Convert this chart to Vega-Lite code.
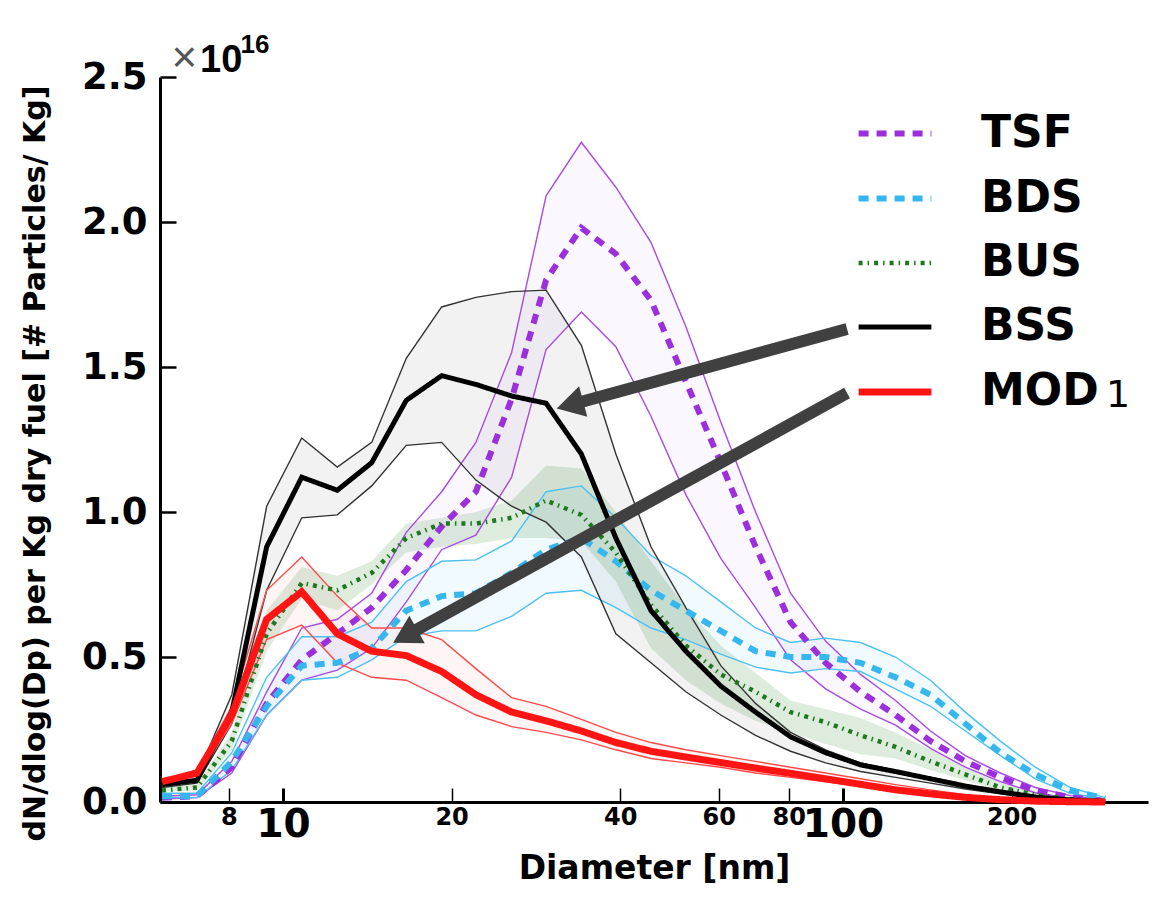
{
 "$schema": "https://vega.github.io/schema/vega-lite/v6.json",
 "width": 988, "height": 725,
 "autosize": {"type": "none"},
 "padding": {"left": 160, "top": 77, "right": 18, "bottom": 97},
 "background": "white",
 "config": {"view": {"stroke": null}, "font": "DejaVu Sans"},
 "datasets": {
  "curves": [
   {"s":"TSF","d":6.08,"m":0.015,"lo":0.01,"hi":0.02},
   {"s":"TSF","d":7.02,"m":0.02,"lo":0.015,"hi":0.025},
   {"s":"TSF","d":8.1,"m":0.12,"lo":0.1,"hi":0.14},
   {"s":"TSF","d":9.35,"m":0.34,"lo":0.3,"hi":0.38},
   {"s":"TSF","d":10.8,"m":0.49,"lo":0.42,"hi":0.6},
   {"s":"TSF","d":12.5,"m":0.58,"lo":0.455,"hi":0.63},
   {"s":"TSF","d":14.4,"m":0.67,"lo":0.53,"hi":0.72},
   {"s":"TSF","d":16.6,"m":0.8,"lo":0.69,"hi":0.93},
   {"s":"TSF","d":19.2,"m":0.95,"lo":0.87,"hi":1.07},
   {"s":"TSF","d":22.1,"m":1.07,"lo":0.92,"hi":1.24},
   {"s":"TSF","d":25.6,"m":1.39,"lo":1.12,"hi":1.55},
   {"s":"TSF","d":29.5,"m":1.8,"lo":1.56,"hi":2.09},
   {"s":"TSF","d":34.1,"m":1.98,"lo":1.69,"hi":2.275},
   {"s":"TSF","d":39.3,"m":1.89,"lo":1.57,"hi":2.12},
   {"s":"TSF","d":45.4,"m":1.73,"lo":1.33,"hi":1.93},
   {"s":"TSF","d":52.4,"m":1.45,"lo":1.06,"hi":1.64},
   {"s":"TSF","d":60.5,"m":1.17,"lo":0.84,"hi":1.31},
   {"s":"TSF","d":69.8,"m":0.88,"lo":0.67,"hi":1.0},
   {"s":"TSF","d":80.6,"m":0.62,"lo":0.49,"hi":0.72},
   {"s":"TSF","d":93.1,"m":0.48,"lo":0.39,"hi":0.555},
   {"s":"TSF","d":107.5,"m":0.38,"lo":0.32,"hi":0.44},
   {"s":"TSF","d":124.1,"m":0.3,"lo":0.265,"hi":0.35},
   {"s":"TSF","d":143.3,"m":0.21,"lo":0.185,"hi":0.245},
   {"s":"TSF","d":165.4,"m":0.14,"lo":0.12,"hi":0.16},
   {"s":"TSF","d":191,"m":0.085,"lo":0.07,"hi":0.1},
   {"s":"TSF","d":220.5,"m":0.04,"lo":0.032,"hi":0.05},
   {"s":"TSF","d":254.6,"m":0.017,"lo":0.012,"hi":0.022},
   {"s":"TSF","d":294,"m":0.004,"lo":0.002,"hi":0.006},

   {"s":"BDS","d":6.08,"m":0.02,"lo":0.015,"hi":0.03},
   {"s":"BDS","d":7.02,"m":0.02,"lo":0.015,"hi":0.03},
   {"s":"BDS","d":8.1,"m":0.14,"lo":0.11,"hi":0.17},
   {"s":"BDS","d":9.35,"m":0.33,"lo":0.3,"hi":0.43},
   {"s":"BDS","d":10.8,"m":0.47,"lo":0.42,"hi":0.57},
   {"s":"BDS","d":12.5,"m":0.48,"lo":0.43,"hi":0.57},
   {"s":"BDS","d":14.4,"m":0.53,"lo":0.49,"hi":0.62},
   {"s":"BDS","d":16.6,"m":0.66,"lo":0.57,"hi":0.76},
   {"s":"BDS","d":19.2,"m":0.71,"lo":0.59,"hi":0.83},
   {"s":"BDS","d":22.1,"m":0.72,"lo":0.59,"hi":0.835},
   {"s":"BDS","d":25.6,"m":0.79,"lo":0.64,"hi":0.9},
   {"s":"BDS","d":29.5,"m":0.87,"lo":0.72,"hi":1.07},
   {"s":"BDS","d":34.1,"m":0.91,"lo":0.73,"hi":1.09},
   {"s":"BDS","d":39.3,"m":0.83,"lo":0.67,"hi":0.98},
   {"s":"BDS","d":45.4,"m":0.73,"lo":0.6,"hi":0.85},
   {"s":"BDS","d":52.4,"m":0.66,"lo":0.56,"hi":0.78},
   {"s":"BDS","d":60.5,"m":0.59,"lo":0.51,"hi":0.69},
   {"s":"BDS","d":69.8,"m":0.52,"lo":0.465,"hi":0.6},
   {"s":"BDS","d":80.6,"m":0.5,"lo":0.445,"hi":0.55},
   {"s":"BDS","d":93.1,"m":0.5,"lo":0.46,"hi":0.565},
   {"s":"BDS","d":107.5,"m":0.48,"lo":0.45,"hi":0.55},
   {"s":"BDS","d":124.1,"m":0.43,"lo":0.39,"hi":0.5},
   {"s":"BDS","d":143.3,"m":0.37,"lo":0.33,"hi":0.42},
   {"s":"BDS","d":165.4,"m":0.27,"lo":0.245,"hi":0.31},
   {"s":"BDS","d":191,"m":0.17,"lo":0.16,"hi":0.21},
   {"s":"BDS","d":220.5,"m":0.095,"lo":0.08,"hi":0.12},
   {"s":"BDS","d":254.6,"m":0.04,"lo":0.03,"hi":0.05},
   {"s":"BDS","d":294,"m":0.012,"lo":0.01,"hi":0.015},

   {"s":"BUS","d":6.08,"m":0.04,"lo":0.035,"hi":0.05},
   {"s":"BUS","d":7.02,"m":0.05,"lo":0.04,"hi":0.06},
   {"s":"BUS","d":8.1,"m":0.21,"lo":0.18,"hi":0.24},
   {"s":"BUS","d":9.35,"m":0.58,"lo":0.52,"hi":0.66},
   {"s":"BUS","d":10.8,"m":0.755,"lo":0.7,"hi":0.81},
   {"s":"BUS","d":12.5,"m":0.73,"lo":0.66,"hi":0.78},
   {"s":"BUS","d":14.4,"m":0.79,"lo":0.75,"hi":0.83},
   {"s":"BUS","d":16.6,"m":0.91,"lo":0.86,"hi":0.96},
   {"s":"BUS","d":19.2,"m":0.96,"lo":0.88,"hi":0.98},
   {"s":"BUS","d":22.1,"m":0.96,"lo":0.89,"hi":1.0},
   {"s":"BUS","d":25.6,"m":0.98,"lo":0.91,"hi":1.04},
   {"s":"BUS","d":29.5,"m":1.04,"lo":0.91,"hi":1.16},
   {"s":"BUS","d":34.1,"m":0.99,"lo":0.9,"hi":1.15},
   {"s":"BUS","d":39.3,"m":0.86,"lo":0.76,"hi":1.0},
   {"s":"BUS","d":45.4,"m":0.68,"lo":0.53,"hi":0.83},
   {"s":"BUS","d":52.4,"m":0.54,"lo":0.42,"hi":0.67},
   {"s":"BUS","d":60.5,"m":0.44,"lo":0.34,"hi":0.54},
   {"s":"BUS","d":69.8,"m":0.38,"lo":0.28,"hi":0.445},
   {"s":"BUS","d":80.6,"m":0.31,"lo":0.24,"hi":0.35},
   {"s":"BUS","d":93.1,"m":0.275,"lo":0.2,"hi":0.32},
   {"s":"BUS","d":107.5,"m":0.23,"lo":0.165,"hi":0.29},
   {"s":"BUS","d":124.1,"m":0.19,"lo":0.15,"hi":0.24},
   {"s":"BUS","d":143.3,"m":0.14,"lo":0.11,"hi":0.18},
   {"s":"BUS","d":165.4,"m":0.095,"lo":0.075,"hi":0.12},
   {"s":"BUS","d":191,"m":0.05,"lo":0.04,"hi":0.07},
   {"s":"BUS","d":220.5,"m":0.025,"lo":0.017,"hi":0.035},
   {"s":"BUS","d":254.6,"m":0.01,"lo":0.006,"hi":0.013},
   {"s":"BUS","d":294,"m":0.003,"lo":0.002,"hi":0.004},

   {"s":"BSS","d":6.08,"m":0.06,"lo":0.05,"hi":0.07},
   {"s":"BSS","d":7.02,"m":0.075,"lo":0.065,"hi":0.09},
   {"s":"BSS","d":8.1,"m":0.31,"lo":0.27,"hi":0.37},
   {"s":"BSS","d":9.35,"m":0.88,"lo":0.73,"hi":1.02},
   {"s":"BSS","d":10.8,"m":1.12,"lo":0.98,"hi":1.255},
   {"s":"BSS","d":12.5,"m":1.075,"lo":0.99,"hi":1.155},
   {"s":"BSS","d":14.4,"m":1.17,"lo":1.09,"hi":1.24},
   {"s":"BSS","d":16.6,"m":1.385,"lo":1.23,"hi":1.53},
   {"s":"BSS","d":19.2,"m":1.47,"lo":1.24,"hi":1.707},
   {"s":"BSS","d":22.1,"m":1.44,"lo":1.11,"hi":1.74},
   {"s":"BSS","d":25.6,"m":1.4,"lo":1.02,"hi":1.76},
   {"s":"BSS","d":29.5,"m":1.375,"lo":0.965,"hi":1.765},
   {"s":"BSS","d":34.1,"m":1.2,"lo":0.845,"hi":1.575},
   {"s":"BSS","d":39.3,"m":0.91,"lo":0.58,"hi":1.2},
   {"s":"BSS","d":45.4,"m":0.66,"lo":0.48,"hi":0.88},
   {"s":"BSS","d":52.4,"m":0.52,"lo":0.38,"hi":0.67},
   {"s":"BSS","d":60.5,"m":0.4,"lo":0.3,"hi":0.47},
   {"s":"BSS","d":69.8,"m":0.31,"lo":0.23,"hi":0.34},
   {"s":"BSS","d":80.6,"m":0.225,"lo":0.175,"hi":0.24},
   {"s":"BSS","d":93.1,"m":0.17,"lo":0.135,"hi":0.18},
   {"s":"BSS","d":107.5,"m":0.128,"lo":0.105,"hi":0.135},
   {"s":"BSS","d":124.1,"m":0.105,"lo":0.085,"hi":0.11},
   {"s":"BSS","d":143.3,"m":0.08,"lo":0.065,"hi":0.085},
   {"s":"BSS","d":165.4,"m":0.055,"lo":0.045,"hi":0.06},
   {"s":"BSS","d":191,"m":0.035,"lo":0.028,"hi":0.038},
   {"s":"BSS","d":220.5,"m":0.017,"lo":0.013,"hi":0.02},
   {"s":"BSS","d":254.6,"m":0.007,"lo":0.005,"hi":0.008},
   {"s":"BSS","d":294,"m":0.002,"lo":0.001,"hi":0.002},

   {"s":"MOD1","d":6.08,"m":0.07,"lo":0.065,"hi":0.075},
   {"s":"MOD1","d":7.02,"m":0.1,"lo":0.09,"hi":0.11},
   {"s":"MOD1","d":8.1,"m":0.3,"lo":0.27,"hi":0.33},
   {"s":"MOD1","d":9.35,"m":0.63,"lo":0.56,"hi":0.73},
   {"s":"MOD1","d":10.8,"m":0.725,"lo":0.61,"hi":0.845},
   {"s":"MOD1","d":12.5,"m":0.58,"lo":0.48,"hi":0.71},
   {"s":"MOD1","d":14.4,"m":0.52,"lo":0.43,"hi":0.6},
   {"s":"MOD1","d":16.6,"m":0.505,"lo":0.42,"hi":0.6},
   {"s":"MOD1","d":19.2,"m":0.45,"lo":0.36,"hi":0.56},
   {"s":"MOD1","d":22.1,"m":0.37,"lo":0.3,"hi":0.46},
   {"s":"MOD1","d":25.6,"m":0.31,"lo":0.26,"hi":0.36},
   {"s":"MOD1","d":29.5,"m":0.28,"lo":0.24,"hi":0.33},
   {"s":"MOD1","d":34.1,"m":0.245,"lo":0.214,"hi":0.285},
   {"s":"MOD1","d":39.3,"m":0.205,"lo":0.18,"hi":0.24},
   {"s":"MOD1","d":45.4,"m":0.175,"lo":0.15,"hi":0.205},
   {"s":"MOD1","d":52.4,"m":0.155,"lo":0.135,"hi":0.18},
   {"s":"MOD1","d":60.5,"m":0.136,"lo":0.12,"hi":0.16},
   {"s":"MOD1","d":69.8,"m":0.117,"lo":0.1,"hi":0.14},
   {"s":"MOD1","d":80.6,"m":0.099,"lo":0.085,"hi":0.12},
   {"s":"MOD1","d":93.1,"m":0.08,"lo":0.07,"hi":0.1},
   {"s":"MOD1","d":107.5,"m":0.061,"lo":0.055,"hi":0.08},
   {"s":"MOD1","d":124.1,"m":0.042,"lo":0.038,"hi":0.06},
   {"s":"MOD1","d":143.3,"m":0.028,"lo":0.025,"hi":0.042},
   {"s":"MOD1","d":165.4,"m":0.016,"lo":0.013,"hi":0.025},
   {"s":"MOD1","d":191,"m":0.008,"lo":0.006,"hi":0.013},
   {"s":"MOD1","d":220.5,"m":0.003,"lo":0.003,"hi":0.006},
   {"s":"MOD1","d":254.6,"m":0.001,"lo":0.001,"hi":0.002},
   {"s":"MOD1","d":294,"m":0.0,"lo":0.0,"hi":0.0}
  ],
  "arrows": [
   {"d":101.7,"m":1.631,"d2":32.54,"m2":1.369},
   {"d":101.7,"m":1.41,"d2":16.52,"m2":0.572}
  ]
 },
 "layer": [
  {
   "data": {"name": "curves"},
   "mark": {"type": "area", "interpolate": "linear"},
   "encoding": {
    "x": {"field": "d", "type": "quantitative",
      "scale": {"type": "log", "domain": [6.03, 350.5], "nice": false},
      "axis": {"values": [8, 10, 20, 40, 60, 80, 100, 200], "format": "d",
        "title": "Diameter [nm]", "titleFont": "DejaVu Sans", "titleFontSize": 33, "titleFontWeight": "bold", "titleColor": "black", "titlePadding": 8,
        "labelFont": "DejaVu Sans", "labelFontWeight": "bold", "labelColor": "black",
        "labelFontSize": {"condition": {"test": "datum.value === 10 || datum.value === 100", "value": 39}, "value": 24},
        "labelPadding": 17, "labelBaseline": "top", "labelOverlap": false, "labelFlush": false,
        "tickSize": -14, "tickColor": "black", "tickWidth": {"condition": {"test": "datum.value === 10 || datum.value === 100", "value": 3}, "value": 1.5},
        "domainColor": "black", "domainWidth": 3, "grid": false}},
    "y": {"field": "lo", "type": "quantitative",
      "scale": {"domain": [0, 2.5], "nice": false},
      "axis": {"values": [0, 0.5, 1, 1.5, 2, 2.5], "format": ".1f",
        "title": "dN/dlog(Dp) per Kg dry fuel [# Particles/ Kg]", "titleFont": "DejaVu Sans", "titleFontSize": 30, "titleFontWeight": "bold", "titleColor": "black",
        "titleX": -125, "titleY": 386, "titleAngle": -90, "titleAlign": "center", "titleBaseline": "middle",
        "labelFont": "DejaVu Sans", "labelFontWeight": "bold", "labelColor": "black", "labelFontSize": 37,
        "labelPadding": 29, "labelOverlap": false, "labelFlush": false,
        "tickSize": -16, "tickColor": "black", "tickWidth": 2.5,
        "domainColor": "black", "domainWidth": 3, "grid": false}},
    "y2": {"field": "hi"},
    "fill": {"field": "s", "type": "nominal", "legend": null,
      "scale": {"domain": ["BSS", "TSF", "BDS", "MOD1", "BUS"],
        "range": ["rgba(0,0,0,0.05)", "rgba(170,90,230,0.05)", "rgba(60,180,240,0.07)", "rgba(255,60,60,0.05)", "rgba(60,140,60,0.17)"]}}
   }
  },
  {
   "data": {"name": "curves"},
   "transform": [
    {"filter": "datum.s !== 'BUS'"},
    {"fold": ["lo", "hi"], "as": ["b", "v"]}
   ],
   "mark": {"type": "line", "strokeWidth": 1.4},
   "encoding": {
    "x": {"field": "d", "type": "quantitative", "title": "Diameter [nm]"},
    "y": {"field": "v", "type": "quantitative", "title": "dN/dlog(Dp) per Kg dry fuel [# Particles/ Kg]"},
    "detail": {"field": "b"},
    "stroke": {"field": "s", "type": "nominal", "legend": null,
      "scale": {"domain": ["TSF", "BDS", "BSS", "MOD1"], "range": ["#A64CE0", "#4DC0F2", "#333333", "#FF4A4A"]}}
   }
  },
  {
   "data": {"name": "curves"},
   "mark": {"type": "line", "strokeCap": "butt"},
   "encoding": {
    "x": {"field": "d", "type": "quantitative", "title": "Diameter [nm]"},
    "y": {"field": "m", "type": "quantitative", "title": "dN/dlog(Dp) per Kg dry fuel [# Particles/ Kg]"},
    "color": {"field": "s", "type": "nominal",
      "scale": {"domain": ["TSF", "BDS", "BUS", "BSS", "MOD1"], "range": ["#9B2FDB", "#36B6EF", "#1E781E", "#000000", "#FF1414"]},
      "legend": {"title": null, "orient": "none", "legendX": 695, "legendY": 17, "padding": 0,
        "symbolType": "stroke", "symbolSize": 5300, "symbolStrokeWidth": 6,
        "labelFont": "DejaVu Sans", "labelFontSize": 44, "labelFontWeight": "bold", "labelColor": "black",
        "labelOffset": 46, "rowPadding": 3,
        "labelExpr": "datum.label === 'MOD1' ? 'MOD' : datum.label"}},
    "strokeDash": {"field": "s", "type": "nominal",
      "scale": {"domain": ["TSF", "BDS", "BUS", "BSS", "MOD1"], "range": [[10, 8], [10, 8], [4, 5, 1.5, 5], [1, 0], [1, 0]]},
      "legend": {"title": null, "orient": "none", "legendX": 695, "legendY": 17, "padding": 0,
        "symbolType": "stroke", "symbolSize": 5300, "symbolStrokeWidth": 6,
        "labelFont": "DejaVu Sans", "labelFontSize": 44, "labelFontWeight": "bold", "labelColor": "black",
        "labelOffset": 46, "rowPadding": 3,
        "labelExpr": "datum.label === 'MOD1' ? 'MOD' : datum.label"}},
    "strokeWidth": {"field": "s", "type": "nominal", "legend": null,
      "scale": {"type": "ordinal", "domain": ["TSF", "BDS", "BUS", "BSS", "MOD1"], "range": [6, 6, 4.5, 5, 7]}}
   }
  },
  {
   "data": {"name": "arrows"},
   "mark": {"type": "rule", "color": "#404040", "strokeWidth": 12, "strokeCap": "butt"},
   "encoding": {
    "x": {"field": "d", "type": "quantitative", "title": "Diameter [nm]"},
    "y": {"field": "m", "type": "quantitative", "title": "dN/dlog(Dp) per Kg dry fuel [# Particles/ Kg]"},
    "x2": {"field": "d2"},
    "y2": {"field": "m2"}
   }
  },
  {
   "data": {"values": [{"d": 32.54, "m": 1.369}]},
   "mark": {"type": "point", "shape": "triangle-up", "filled": true, "size": 1000, "color": "#404040", "opacity": 1, "angle": 255},
   "encoding": {
    "x": {"field": "d", "type": "quantitative", "title": "Diameter [nm]"},
    "y": {"field": "m", "type": "quantitative", "title": "dN/dlog(Dp) per Kg dry fuel [# Particles/ Kg]"}
   }
  },
  {
   "data": {"values": [{"d": 16.52, "m": 0.572}]},
   "mark": {"type": "point", "shape": "triangle-up", "filled": true, "size": 1000, "color": "#404040", "opacity": 1, "angle": 241},
   "encoding": {
    "x": {"field": "d", "type": "quantitative", "title": "Diameter [nm]"},
    "y": {"field": "m", "type": "quantitative", "title": "dN/dlog(Dp) per Kg dry fuel [# Particles/ Kg]"}
   }
  },
  {
   "data": {"values": [{"d": 6.32, "m": 2.5, "t": "×"}]},
   "mark": {"type": "text", "align": "left", "baseline": "alphabetic", "dy": -5, "fontSize": 44, "color": "#555555", "font": "Liberation Sans"},
   "encoding": {
    "x": {"field": "d", "type": "quantitative", "title": "Diameter [nm]"},
    "y": {"field": "m", "type": "quantitative", "title": "dN/dlog(Dp) per Kg dry fuel [# Particles/ Kg]"},
    "text": {"field": "t"}
   }
  },
  {
   "data": {"values": [{"d": 7.11, "m": 2.5, "t": "10"}]},
   "mark": {"type": "text", "align": "left", "baseline": "alphabetic", "dy": -5, "fontSize": 38, "fontWeight": "bold", "color": "black", "font": "Liberation Sans"},
   "encoding": {
    "x": {"field": "d", "type": "quantitative", "title": "Diameter [nm]"},
    "y": {"field": "m", "type": "quantitative", "title": "dN/dlog(Dp) per Kg dry fuel [# Particles/ Kg]"},
    "text": {"field": "t"}
   }
  },
  {
   "data": {"values": [{"d": 8.4, "m": 2.5, "t": "16"}]},
   "mark": {"type": "text", "align": "left", "baseline": "alphabetic", "dy": -24, "fontSize": 26, "fontWeight": "bold", "color": "black", "font": "Liberation Sans"},
   "encoding": {
    "x": {"field": "d", "type": "quantitative", "title": "Diameter [nm]"},
    "y": {"field": "m", "type": "quantitative", "title": "dN/dlog(Dp) per Kg dry fuel [# Particles/ Kg]"},
    "text": {"field": "t"}
   }
  },
  {
   "data": {"values": [{"d": 294.9, "m": 1.362, "t": "1"}]},
   "mark": {"type": "text", "align": "left", "baseline": "alphabetic", "fontSize": 38, "color": "black", "font": "DejaVu Sans"},
   "encoding": {
    "x": {"field": "d", "type": "quantitative", "title": "Diameter [nm]"},
    "y": {"field": "m", "type": "quantitative", "title": "dN/dlog(Dp) per Kg dry fuel [# Particles/ Kg]"},
    "text": {"field": "t"}
   }
  }
 ]
}
